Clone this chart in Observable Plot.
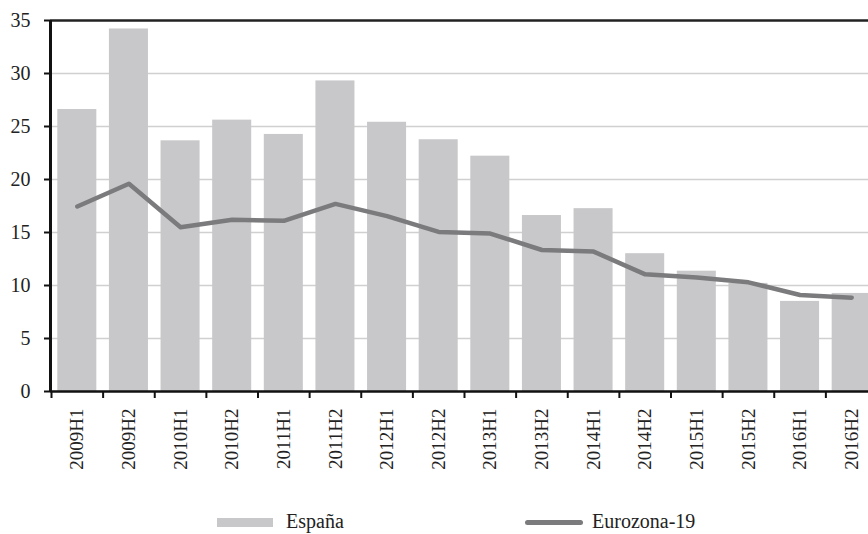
<!DOCTYPE html>
<html>
<head>
<meta charset="utf-8">
<script src="https://cdn.jsdelivr.net/npm/d3@7"></script>
<script src="https://cdn.jsdelivr.net/npm/@observablehq/plot@0.6"></script>
<style>
  html, body { margin: 0; padding: 0; background: white; }
  body { width: 868px; height: 534px; overflow: hidden; font-family: "Liberation Serif", "Times New Roman", serif; }
  #legend { position: relative; width: 868px; height: 34px; font-size: 20px; color: #222; font-family: "Liberation Serif", "Times New Roman", serif; }
  #legend .sw-bar { position: absolute; left: 217px; top: 18px; width: 56px; height: 9px; background: #c8c8ca; }
  #legend .sw-line { position: absolute; left: 525px; top: 20px; width: 58px; height: 5px; border-radius: 3px; background: #7b7b7d; }
  #legend .lab { position: absolute; top: 11px; line-height: 20px; }
</style>
</head>
<body>
<div id="chart"></div>
<div id="legend">
  <div class="sw-bar"></div><div class="lab" id="lab1" style="left:286px"></div>
  <div class="sw-line"></div><div class="lab" id="lab2" style="left:592px"></div>
</div>
<script>
const periods = ["2009H1","2009H2","2010H1","2010H2","2011H1","2011H2","2012H1","2012H2",
                 "2013H1","2013H2","2014H1","2014H2","2015H1","2015H2","2016H1","2016H2"];
const espana   = [26.6, 34.2, 23.65, 25.6, 24.25, 29.3, 25.4, 23.75, 22.2, 16.6, 17.25, 13.0, 11.35, 10.2, 8.5, 9.25];
const eurozona = [17.45, 19.6, 15.5, 16.2, 16.1, 17.7, 16.55, 15.05, 14.9, 13.35, 13.2, 11.05, 10.75, 10.3, 9.1, 8.85];
const yTicks = [0, 5, 10, 15, 20, 25, 30, 35];
const gridTicks = [5, 10, 15, 20, 25, 30];
const seriesNames = ["España", "Eurozona-19"];

const data = periods.map((p, i) => ({period: p, espana: espana[i], eurozona: eurozona[i]}));
const x0 = 51, x1 = 877;
const step = (x1 - x0) / periods.length;
const serif = '"Liberation Serif", "Times New Roman", serif';

const chart = Plot.plot({
  width: 868,
  height: 500,
  marginTop: 20,
  marginBottom: 109,
  marginLeft: 50,
  marginRight: 0,
  style: {fontFamily: serif, fontSize: "19px", color: "#222", background: "white"},
  x: {type: "band", domain: periods, range: [x0, x1], paddingInner: 0.244, paddingOuter: 0.122, round: false, label: null},
  y: {domain: [0, 35], range: [391, 20], label: null},
  marks: [
    Plot.ruleY(gridTicks, {stroke: "#d0d0d0", strokeWidth: 1.5}),
    Plot.barY(data, {x: "period", y: "espana", fill: "#c8c8ca"}),
    Plot.lineY(data, {x: "period", y: "eurozona", stroke: "#7b7b7d", strokeWidth: 4.5, strokeLinejoin: "round", strokeLinecap: "round"}),
    Plot.ruleY([35], {stroke: "#222", strokeWidth: 2.5}),
    Plot.ruleY([0], {stroke: "#111", strokeWidth: 2.5}),
    Plot.ruleX([periods[0]], {x: d => d, dx: -step / 2 - 1, y1: 0, y2: 35, stroke: "#111", strokeWidth: 3}),
    Plot.axisY({ticks: yTicks, tickSize: 6, tickPadding: 14, strokeWidth: 2, stroke: "#111", fill: "#222", fontFamily: serif, fontSize: 20}),
    Plot.axisX({ticks: periods, tickSize: 7, tickFormat: () => "", dx: -step / 2, strokeWidth: 2, stroke: "#111"}),
    Plot.axisX({ticks: periods, tickSize: 0, tickPadding: 17, tickRotate: -90, fill: "#222", fontFamily: serif, fontSize: 19})
  ]
});
document.getElementById("chart").appendChild(chart);
document.getElementById("lab1").textContent = seriesNames[0];
document.getElementById("lab2").textContent = seriesNames[1];
</script>
</body>
</html>
